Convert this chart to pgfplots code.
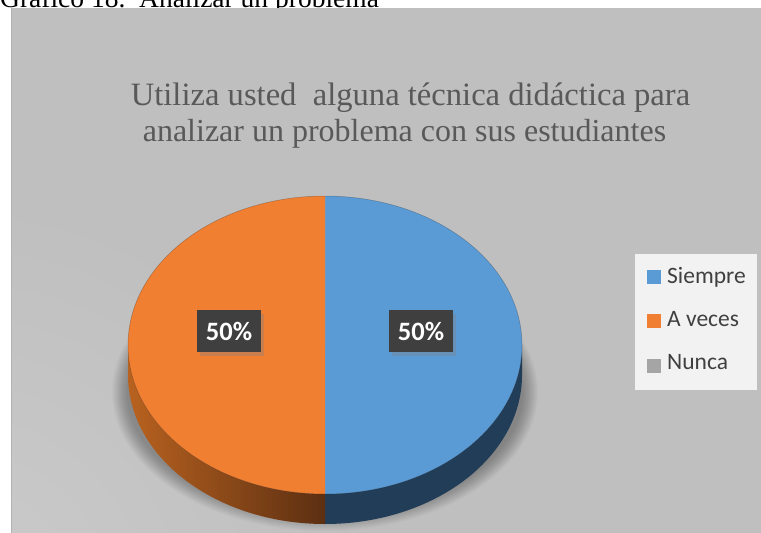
\documentclass[border=0pt]{standalone}
\usepackage{pgfplots}
\pgfplotsset{compat=1.18}
\usepackage{pgfplotstable}
\usepackage{fontspec}
\setmainfont{Liberation Serif}
\newfontfamily\calib{Carlito}
\usetikzlibrary{shadows}

\definecolor{bg}{HTML}{BFBFBF}
\definecolor{lightbg}{HTML}{CBCBCB}
\definecolor{edgec}{HTML}{B2B2B2}
\definecolor{cSiempre}{HTML}{5B9BD5}
\definecolor{cAveces}{HTML}{F07F32}
\definecolor{cNunca}{HTML}{A5A5A5}
\definecolor{sideS}{HTML}{223D58}
\definecolor{sideAL}{HTML}{B8621F}
\definecolor{sideAR}{HTML}{5C2F12}
\definecolor{titlec}{HTML}{595959}
\definecolor{legc}{HTML}{404040}
\definecolor{legbg}{HTML}{F2F2F2}
\definecolor{labbg}{HTML}{3F3F3F}

\pgfplotstableread[col sep=comma]{
label,value
Siempre,50
A veces,50
Nunca,0
}\piedata

% pie geometry (in px of the 761x533 picture): centre (325,345), radii 197 x 149, depth 30
\newcommand\topsector[3]{%
  \fill[#3] (axis cs:325,345) -- ++(#1:197pt and 149pt)
    arc[start angle=#1, end angle=#2, x radius=197pt, y radius=149pt] -- cycle;}
\newcommand\sidepath[2]{%
  (axis cs:325,345) ++(#1:197pt and 149pt)
    arc[start angle=#1, end angle=#2, x radius=197pt, y radius=149pt]
    -- ++(0pt,-30pt)
    arc[start angle=#2, end angle=#1, x radius=197pt, y radius=149pt] -- cycle}

\begin{document}
\begin{tikzpicture}
\pgfplotstablegetelem{0}{value}\of\piedata \edef\vA{\pgfplotsretval}
\pgfplotstablegetelem{1}{value}\of\piedata \edef\vB{\pgfplotsretval}
\pgfplotstablegetelem{2}{value}\of\piedata \edef\vC{\pgfplotsretval}
\pgfmathsetmacro\tot{\vA+\vB+\vC}
\pgfmathsetmacro\fA{\vA/\tot}
\pgfmathsetmacro\fB{\vB/\tot}
\pgfmathsetmacro\fC{\vC/\tot}
\pgfmathsetmacro\aA{90}
\pgfmathsetmacro\aB{\aA-360*\fA}
\pgfmathsetmacro\aC{\aB-360*\fB}
\pgfmathsetmacro\aD{\aC-360*\fC}
\pgfmathsetmacro\mA{(\aA+\aB)/2}
\pgfmathsetmacro\mB{(\aB+\aC)/2}
\pgfmathtruncatemacro\pA{round(100*\fA)}
\pgfmathtruncatemacro\pB{round(100*\fB)}
\pgfmathsetmacro\loA{max(\aB,-180)}\pgfmathsetmacro\hiA{min(\aA,0)}
\pgfmathsetmacro\loB{max(\aC,-180)}\pgfmathsetmacro\hiB{min(\aB,0)}

\path[use as bounding box] (0,0) rectangle (761pt,533pt);

\begin{scope}[x=1pt,y=-1pt,shift={(0pt,533pt)}]
  \node[anchor=base west, inner sep=0pt, font=\fontsize{27.5}{30}\selectfont]
    at (0,7.5) {Gráfico 18.\ \ Analizar un problema};
  \fill[bg] (11,8) rectangle (761,533);
  \begin{scope}
    \clip (11,8) rectangle (761,533);
    \shade[inner color=lightbg, outer color=bg] (-40,600) circle (400pt);
  \end{scope}
  \fill[edgec] (11,8) rectangle (12.2,533);
  % soft shadow under the pie
  \foreach \k in {0,...,15}{
    \fill[black, opacity=0.02] (325,392) ellipse [x radius={(198+\k)*1pt}, y radius={(124+\k)*1pt}];
  }
\end{scope}

\begin{axis}[at={(0pt,0pt)}, anchor=south west, width=761pt, height=533pt,
  scale only axis, hide axis, xmin=0, xmax=761, ymin=0, ymax=533,
  y dir=reverse, clip=false]
  % side walls
  \fill[sideS] \sidepath{\hiA}{\loA};
  \shade[left color=sideAL, right color=sideAR] \sidepath{\hiB}{\loB};
  % top faces
  \topsector{\aA}{\aB}{cSiempre}
  \topsector{\aB}{\aC}{cAveces}
  \topsector{\aC}{\aD}{cNunca}
  \draw[black, opacity=0.25, line width=0.5pt] (axis cs:325,345) ellipse [x radius=197pt, y radius=149pt];
  % data labels
  \path (axis cs:325,331) ++(\mA:96pt and 73pt)
    node[fill=labbg, minimum width=64pt, minimum height=42pt, inner sep=0pt,
         text=white, font=\calib\bfseries\fontsize{26.5}{28}\selectfont,
         drop shadow={shadow xshift=3pt, shadow yshift=-4pt, opacity=0.35}] {\pA\%};
  \path (axis cs:325,331) ++(\mB:96pt and 73pt)
    node[fill=labbg, minimum width=64pt, minimum height=42pt, inner sep=0pt,
         text=white, font=\calib\bfseries\fontsize{26.5}{28}\selectfont,
         drop shadow={shadow xshift=3pt, shadow yshift=-4pt, opacity=0.35}] {\pB\%};
\end{axis}

\begin{scope}[x=1pt,y=-1pt,shift={(0pt,533pt)}]
  % title
  \node[anchor=base, inner sep=0pt, text=titlec, font=\fontsize{32.6}{36}\selectfont]
    at (410.5,106) {Utiliza usted\ \ alguna técnica didáctica para};
  \node[anchor=base, inner sep=0pt, text=titlec, font=\fontsize{32}{36}\selectfont]
    at (404.5,142) {analizar un problema con sus estudiantes};
  % legend
  \fill[legbg] (635,254) rectangle (757,390);
  \fill[cSiempre] (647,270) rectangle (661,284);
  \fill[cAveces] (647,314) rectangle (661,328);
  \fill[cNunca] (647,359) rectangle (661,373);
  \node[anchor=base west, inner sep=0pt, text=legc, font=\calib\fontsize{23.5}{26}\selectfont] at (667,284) {Siempre};
  \node[anchor=base west, inner sep=0pt, text=legc, font=\calib\fontsize{23.5}{26}\selectfont] at (667,327) {A veces};
  \node[anchor=base west, inner sep=0pt, text=legc, font=\calib\fontsize{23.5}{26}\selectfont] at (667,370) {Nunca};
\end{scope}
\end{tikzpicture}
\end{document}
